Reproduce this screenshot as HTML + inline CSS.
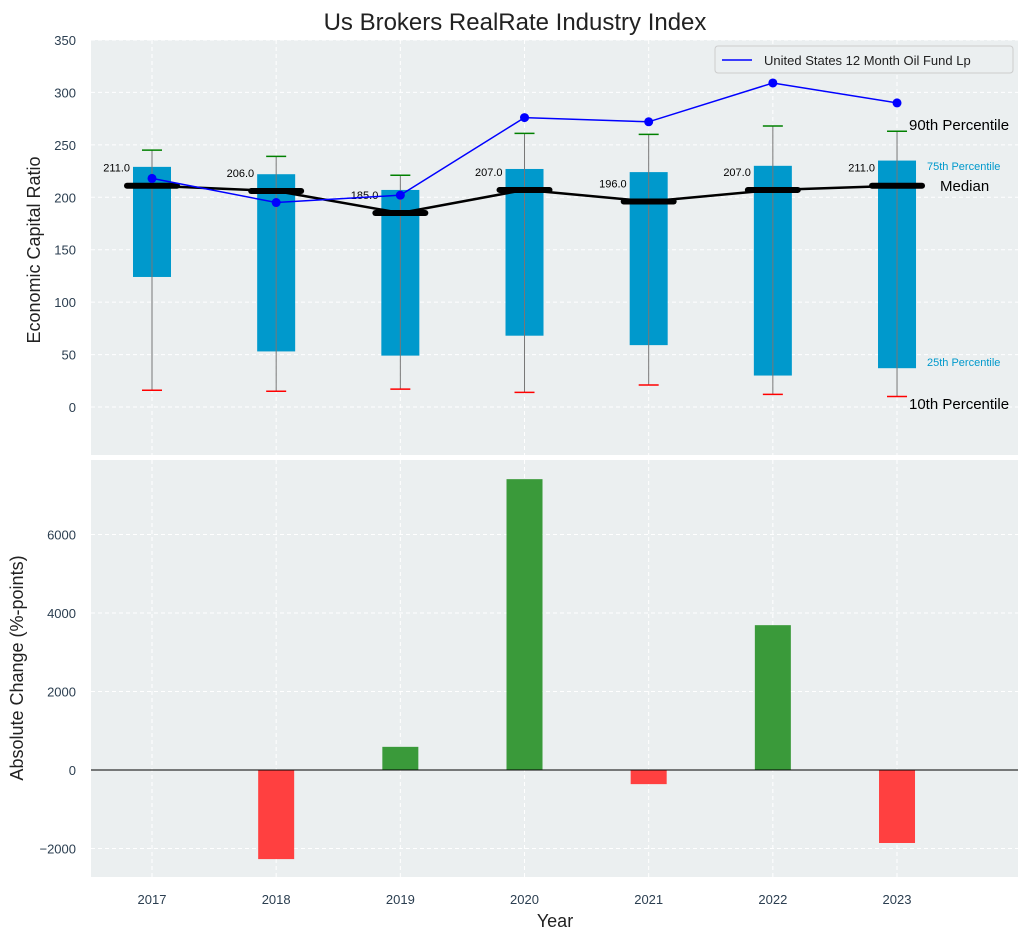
<!DOCTYPE html>
<html><head><meta charset="utf-8"><style>
body{margin:0;background:#fff;font-family:"Liberation Sans",sans-serif}
svg text{font-family:"Liberation Sans",sans-serif}
</style></head><body>
<svg id="c" width="1030" height="940" xmlns="http://www.w3.org/2000/svg"></svg>
<script>
const years=[2017,2018,2019,2020,2021,2022,2023];
const p10=[16,15,17,14,21,12,10];
const p25=[124,53,49,68,59,30,37];
const p75=[229,222,207,227,224,230,235];
const p90=[245,239,221,261,260,268,263];
const medians=[211,206,185,207,196,207,211];
const fundValues=[218,195,202,276,272,309,290];
const changes=[0,-2270,590,7410,-360,3690,-1860];
const topTicks=[0,50,100,150,200,250,300,350];
const botTicks=[-2000,0,2000,4000,6000];

const svg=document.getElementById('c');const NS='http://www.w3.org/2000/svg';
function el(t,a,txt){const e=document.createElementNS(NS,t);for(const k in a)e.setAttribute(k,a[k]);if(txt!==undefined)e.textContent=txt;svg.appendChild(e);return e;}
const L=91,R=1018;
const xs=y=>152+(y-2017)*124.17;
const yt=v=>407-v*1.0486;
const yb=v=>770-v*0.03925;
const T1=40,B1=455,T2=460,B2=877;
let e;
e=el('rect',{x:L,y:T1,width:R-L,height:B1-T1,fill:'#ebeff0'});

e=el('rect',{x:L,y:T2,width:R-L,height:B2-T2,fill:'#ebeff0'});

const tc='#2b3e50';
years.forEach(y=>{
 el('line',{x1:xs(y),x2:xs(y),y1:T1,y2:B1,stroke:'#fff','stroke-dasharray':'4,3'});
 el('line',{x1:xs(y),x2:xs(y),y1:T2,y2:B2,stroke:'#fff','stroke-dasharray':'4,3'});
 e=el('text',{x:xs(y),y:904,'text-anchor':'middle','font-size':13,fill:tc},y);
 
});
topTicks.forEach(v=>{
 el('line',{x1:L,x2:R,y1:yt(v),y2:yt(v),stroke:'#fff','stroke-dasharray':'4,3'});
 e=el('text',{x:76,y:yt(v)+5,'text-anchor':'end','font-size':13,fill:tc},v);
 
});
botTicks.forEach(v=>{
 el('line',{x1:L,x2:R,y1:yb(v),y2:yb(v),stroke:'#fff','stroke-dasharray':'4,3'});
 e=el('text',{x:76,y:yb(v)+5,'text-anchor':'end','font-size':13,fill:tc},(v<0?'−':'')+Math.abs(v));
 
});
years.forEach((y,i)=>{
 const x=xs(y);
 e=el('rect',{x:x-19,y:yt(p75[i]),width:38,height:yt(p25[i])-yt(p75[i]),fill:'#0099cc'});
 
 el('line',{x1:x,x2:x,y1:yt(p90[i]),y2:yt(p10[i]),stroke:'#777','stroke-width':1});
 el('line',{x1:x-10,x2:x+10,y1:yt(p90[i]),y2:yt(p90[i]),stroke:'green','stroke-width':1.5});
 el('line',{x1:x-10,x2:x+10,y1:yt(p10[i]),y2:yt(p10[i]),stroke:'red','stroke-width':1.5});
 e=el('text',{x:x-22,y:yt(medians[i])-14,'text-anchor':'end','font-size':11,fill:'#000'},medians[i].toFixed(1));
 
});
e=el('polyline',{points:years.map((y,i)=>xs(y)+','+yt(medians[i])).join(' '),fill:'none',stroke:'#000','stroke-width':2.5});

years.forEach((y,i)=>{el('line',{x1:xs(y)-25,x2:xs(y)+25,y1:yt(medians[i]),y2:yt(medians[i]),stroke:'#000','stroke-width':6,'stroke-linecap':'round'});});
e=el('polyline',{points:years.map((y,i)=>xs(y)+','+yt(fundValues[i])).join(' '),fill:'none',stroke:'blue','stroke-width':1.5});

years.forEach((y,i)=>{e=el('circle',{cx:xs(y),cy:yt(fundValues[i]),r:4.5,fill:'blue'});});
[['90th Percentile',130,15,'#000',909],['75th Percentile',170,11,'#0099cc',927],['Median',191,15,'#000',940],['25th Percentile',366,11,'#0099cc',927],['10th Percentile',409,15,'#000',909]].forEach(a=>{
 e=el('text',{x:a[4],y:a[1],'font-size':a[2],fill:a[3]},a[0]);
 
});
e=el('rect',{x:715,y:46,width:298,height:27,fill:'#ebeff0',stroke:'#ccc',rx:3});

el('line',{x1:722,x2:752,y1:60,y2:60,stroke:'blue','stroke-width':1.5});
e=el('text',{x:764,y:65,'font-size':13,fill:'#222'},'United States 12 Month Oil Fund Lp');

years.forEach((y,i)=>{
 const v=changes[i];if(!v)return;
 e=el('rect',{x:xs(y)-18,y:Math.min(yb(v),yb(0)),width:36,height:Math.abs(yb(v)-yb(0)),fill:v>0?'#3a9a3a':'#ff4040'});
 
});
el('line',{x1:L,x2:R,y1:yb(0),y2:yb(0),stroke:'#000','stroke-width':1});
e=el('text',{x:515,y:30,'text-anchor':'middle','font-size':24,fill:'#222'},'Us Brokers RealRate Industry Index');

e=el('text',{x:40,y:250,'text-anchor':'middle','font-size':18,fill:'#222',transform:'rotate(-90 40 250)'},'Economic Capital Ratio');

e=el('text',{x:23,y:668,'text-anchor':'middle','font-size':18,fill:'#222',transform:'rotate(-90 23 668)'},'Absolute Change (%-points)');

e=el('text',{x:555,y:927,'text-anchor':'middle','font-size':18,fill:'#222'},'Year');

</script>
</body></html>
